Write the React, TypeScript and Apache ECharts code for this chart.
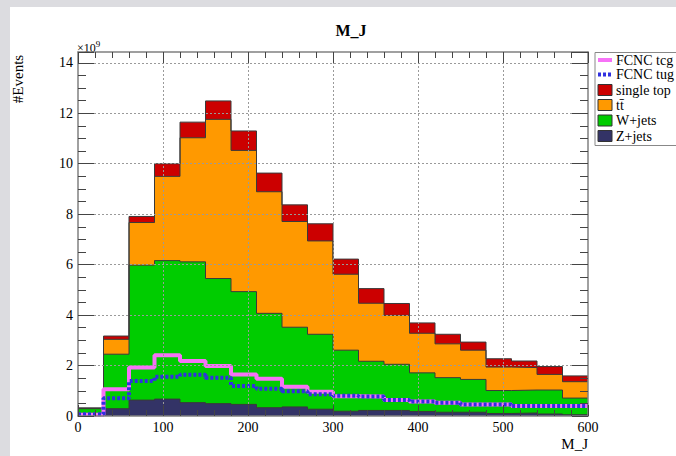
import React, { useEffect, useRef } from "react";
import * as echarts from "echarts";

const binEdges = [0, 30, 60, 90, 120, 150, 180, 210, 240, 270, 300, 330, 360, 390, 420, 450, 480, 510, 540, 570, 600];
const zJets = [0.03, 0.29, 0.63, 0.67, 0.53, 0.49, 0.46, 0.33, 0.36, 0.27, 0.19, 0.22, 0.22, 0.18, 0.15, 0.15, 0.10, 0.12, 0.08, 0.05];
const wJets = [0.26, 2.16, 5.35, 5.49, 5.58, 4.96, 4.47, 3.74, 3.16, 2.97, 2.42, 1.95, 1.83, 1.53, 1.37, 1.30, 0.91, 0.91, 0.95, 0.66];
const ttbar = [0.02, 0.59, 1.69, 3.34, 4.92, 6.31, 5.60, 4.82, 4.19, 3.70, 3.01, 2.30, 1.94, 1.57, 1.34, 1.16, 0.93, 0.89, 0.62, 0.65];
const singleTop = [0.01, 0.13, 0.24, 0.50, 0.62, 0.73, 0.77, 0.74, 0.66, 0.68, 0.60, 0.58, 0.47, 0.41, 0.38, 0.32, 0.33, 0.26, 0.31, 0.23];
const fcncTcg = [0.05, 1.06, 1.92, 2.41, 2.18, 1.98, 1.65, 1.48, 1.16, 0.96, 0.78, 0.77, 0.63, 0.57, 0.53, 0.46, 0.46, 0.40, 0.40, 0.40];
const fcncTug = [0.07, 0.70, 1.39, 1.56, 1.64, 1.52, 1.19, 1.08, 0.98, 0.86, 0.80, 0.77, 0.63, 0.57, 0.53, 0.46, 0.46, 0.40, 0.40, 0.40];
const xGridValues = [100, 200, 300, 400, 500];
const yGridValues = [2, 4, 6, 8, 10, 12, 14];
const legendLabels = ["FCNC tcg", "FCNC tug", "single top", "tt\u0304", "W+jets", "Z+jets"];

const SERIF = "'Liberation Serif', 'DejaVu Serif', serif";

function stepData(vals: number[]) {
  const pts = vals.map((v, i) => [binEdges[i], v]);
  pts.push([binEdges[binEdges.length - 1], vals[vals.length - 1]]);
  return pts;
}

export default function App() {
  const ref = useRef<HTMLDivElement>(null);
  useEffect(() => {
    if (!ref.current) return;
    const chart = echarts.init(ref.current, null, { renderer: "svg" });
    const c1 = zJets.slice();
    const c2 = c1.map((v, i) => v + wJets[i]);
    const c3 = c2.map((v, i) => v + ttbar[i]);
    const c4 = c3.map((v, i) => v + singleTop[i]);

    const stackSeries = (name: string, vals: number[], color: string) => ({
      type: "line",
      name,
      step: "end",
      data: stepData(vals),
      symbol: "none",
      lineStyle: { color: "#3a3a3a", width: 1 },
      areaStyle: { color, opacity: 1, origin: "start" },
      z: 2,
      silent: true,
    });

    const axisLineStyle = { color: "#808080", width: 1.5 };
    const tickStyle = { color: "#444", width: 1 };
    const YMAX = 14.43;

    const xAxisBase = (pos: string, labels: boolean) => ({
      type: "value", min: 0, max: 600, interval: 100, position: pos, z: 10,
      axisLine: { show: true, onZero: false, lineStyle: axisLineStyle },
      axisTick: { show: true, inside: true, length: 11, lineStyle: tickStyle },
      minorTick: { show: true, splitNumber: 5, length: 6, lineStyle: tickStyle },
      splitLine: { show: false },
      minorSplitLine: { show: false },
      splitArea: { show: false },
      axisLabel: labels
        ? { show: true, fontFamily: SERIF, fontSize: 14, color: "#000", margin: 4 }
        : { show: false },
    });
    const yAxisBase = (pos: string, labels: boolean) => ({
      type: "value", min: 0, max: YMAX, interval: 2, position: pos, z: 10,
      axisLine: { show: true, onZero: false, lineStyle: axisLineStyle },
      axisTick: { show: true, inside: true, length: 16, lineStyle: tickStyle },
      minorTick: { show: true, splitNumber: 4, length: 8, lineStyle: tickStyle },
      splitLine: { show: false },
      minorSplitLine: { show: false },
      splitArea: { show: false },
      axisLabel: labels
        ? {
            show: true, fontFamily: SERIF, fontSize: 14, color: "#000", margin: 5,
            formatter: (v: number) => (Math.abs(v / 2 - Math.round(v / 2)) < 1e-6 ? String(Math.round(v)) : ""),
          }
        : { show: false },
    });

    const gridLineStyle = { color: "#9a9a9a", type: [2, 2], width: 1 };
    const gridMarks = [
      ...xGridValues.map((v) => ({ xAxis: v })),
      ...yGridValues.map((v) => ({ yAxis: v })),
    ];

    const legendColors = ["#cc0000", "#ff9900", "#00cc00", "#333366"];
    const legendY = [60, 74.5, 90, 105, 120.5, 136];
    const legendEls: any[] = [
      { type: "rect", shape: { x: 595, y: 52.5, width: 120, height: 93 }, style: { fill: "#fff", stroke: "#888", lineWidth: 1 }, z: 50 },
      { type: "line", shape: { x1: 598, y1: legendY[0], x2: 612, y2: legendY[0] }, style: { stroke: "#f772f7", lineWidth: 4 }, z: 51 },
      { type: "line", shape: { x1: 598, y1: legendY[1], x2: 612, y2: legendY[1] }, style: { stroke: "#3030e0", lineWidth: 4, lineDash: [3, 2] }, z: 51 },
    ];
    for (let i = 0; i < 4; i++) {
      legendEls.push({ type: "rect", shape: { x: 598, y: legendY[i + 2] - 5.5, width: 14, height: 11 }, style: { fill: legendColors[i], stroke: "#333", lineWidth: 1 }, z: 51 });
    }
    legendLabels.forEach((t, i) => {
      legendEls.push({ type: "text", x: 616, y: legendY[i], style: { text: t, font: `14px ${SERIF}`, fill: "#000", verticalAlign: "middle", align: "left" }, z: 52 });
    });

    chart.setOption({
      animation: false,
      backgroundColor: "#dcdce0",
      grid: { left: 78, right: 88, top: 52, bottom: 40, containLabel: false },
      xAxis: [xAxisBase("bottom", true), xAxisBase("top", false)],
      yAxis: [yAxisBase("left", true), yAxisBase("right", false)],
      series: [
        {
          type: "line", name: "grid", data: [], symbol: "none", z: 1, silent: true,
          markLine: {
            silent: true, symbol: ["none", "none"], animation: false,
            label: { show: false },
            lineStyle: gridLineStyle,
            data: gridMarks,
          },
        },
        stackSeries("single top", c4, "#cc0000"),
        stackSeries("tt", c3, "#ff9900"),
        stackSeries("W+jets", c2, "#00cc00"),
        stackSeries("Z+jets", c1, "#333366"),
        {
          type: "line", name: "FCNC tcg", step: "end", data: stepData(fcncTcg), symbol: "none",
          lineStyle: { color: "#f772f7", width: 4 }, z: 3, silent: true,
        },
        {
          type: "line", name: "FCNC tug", step: "end", data: stepData(fcncTug), symbol: "none",
          lineStyle: { color: "#3030e0", width: 4, type: [3, 2] }, z: 4, silent: true,
        },
      ],
      graphic: [
        { type: "rect", shape: { x: 10, y: 7, width: 700, height: 460 }, style: { fill: "#fff" }, z: -10, silent: true },
        { type: "text", x: 351, y: 30, style: { text: "M_J", font: `bold 16px ${SERIF}`, fill: "#000", align: "center", verticalAlign: "middle" }, z: 5 },
        {
          type: "text", x: 18, y: 79, rotation: Math.PI / 2,
          style: { text: "#Events", font: `15px ${SERIF}`, fill: "#000", align: "center", verticalAlign: "middle" }, z: 5,
        },
        {
          type: "text", x: 77, y: 48,
          style: {
            text: "×10{sup|9}", font: `12px ${SERIF}`, fill: "#000", align: "left", verticalAlign: "middle",
            rich: { sup: { fontFamily: SERIF, fontSize: 9, verticalAlign: "top", padding: [0, 0, 8, 0] } },
          }, z: 5,
        },
        { type: "text", x: 588, y: 444, style: { text: "M_J", font: `15px ${SERIF}`, fill: "#000", align: "right", verticalAlign: "middle" }, z: 5 },
        ...legendEls,
      ],
    });
    return () => chart.dispose();
  }, []);
  return <div ref={ref} style={{ position: "fixed", left: 0, top: 0, width: 676, height: 456 }} />;
}
